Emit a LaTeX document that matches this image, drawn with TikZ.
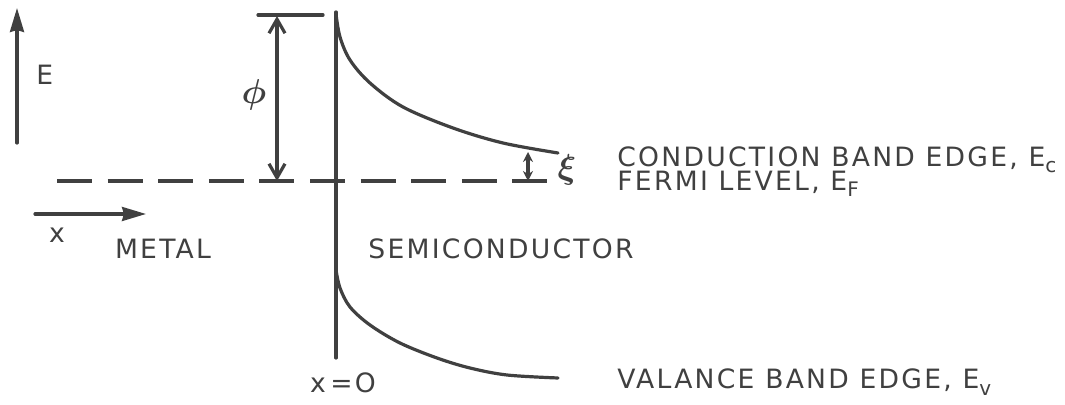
\documentclass[tikz,border=0pt]{standalone}
\usepackage{amsmath}
\usepackage{fontspec}
\setmainfont{DejaVu Sans}[LetterSpace=8.5]
\usetikzlibrary{arrows.meta}
\definecolor{ink}{gray}{0.25}
\tikzset{
  ln/.style={line width=1.6pt, draw=ink, line cap=round},
  lbl/.style={inner sep=0pt, font=\fontsize{13.3}{15}\selectfont, text=ink},
  fermi/.style={ln, line cap=butt, dash pattern=on 17.5pt off 7.8pt},
}
\newcommand{\sbs}[1]{\raisebox{-0.45ex}{\fontsize{10}{11}\selectfont #1}}
\begin{document}
\begin{tikzpicture}[x=0.5pt,y=-0.5pt]
\useasboundingbox (0,0) rectangle (1065,405);
% coordinates
\coordinate (Etail) at (17,143);
\coordinate (Ehead) at (17,8);
\coordinate (xtail) at (35,214);
\coordinate (xhead) at (146,214);
\coordinate (barL) at (258,15);
\coordinate (barR) at (323,15);
\coordinate (phiT) at (277,16);
\coordinate (phiB) at (277,181);
\coordinate (ifT) at (336,12);
\coordinate (ifB) at (336,358);
\coordinate (fL) at (57,181);
\coordinate (fR) at (548,181);
\coordinate (xiT) at (528,152);
\coordinate (xiB) at (528,181);
% axes
\draw[ln, -{Stealth[length=12pt,width=7pt,inset=1pt]}] (Etail) -- (Ehead);
\draw[ln, -{Stealth[length=12pt,width=7pt,inset=1pt]}] (xtail) -- (xhead);
\node[lbl, anchor=west] (E) at (36,75) {E};
\node[lbl, anchor=center] (xl) at (57,235) {x};
% work function
\draw[ln] (barL) -- (barR);
\draw[ln, {Straight Barb[length=7pt,width=8pt]}-{Straight Barb[length=7pt,width=8pt]}] (phiT) -- (phiB);
\node[lbl, font=\fontsize{17}{18}\selectfont] (phi) at (254,95) {$\boldsymbol{\phi}$};
% interface
\draw[ln] (ifT) -- (ifB);
% fermi level
\draw[fermi] (fL) -- (fR);
% conduction band
\draw[ln] plot[smooth, tension=0.55] coordinates {(336,14) (340,37) (350,60) (370,83) (403,107) (453,128) (503,143) (558,153)};
% xi
\draw[ln, {Stealth[length=5pt,width=5pt]}-{Stealth[length=5pt,width=5pt]}] (xiT) -- (xiB);
\node[lbl, font=\fontsize{17}{18}\selectfont] (xi) at (567,170) {$\boldsymbol{\xi}$};
% valence band
\draw[ln] plot[smooth, tension=0.55] coordinates {(336,270) (340,288) (350,307) (370,325) (400,343) (437,358) (470,368) (507,375) (558,378)};
% labels
\node[lbl, anchor=center] (metal) at (163,249) {METAL};
\node[lbl, anchor=west] (semi) at (368,249) {SEMICONDUCTOR};
\node[lbl, anchor=center] (x0) at (343,383) {x\,=O};
\node[lbl, anchor=west] (ec) at (617,160) {CONDUCTION BAND EDGE, E\sbs{c}};
\node[lbl, anchor=west] (ef) at (617,184) {FERMI LEVEL, E\sbs{F}};
\node[lbl, anchor=west] (ev) at (617,382) {VALANCE BAND EDGE, E\sbs{v}};
\end{tikzpicture}
\end{document}
